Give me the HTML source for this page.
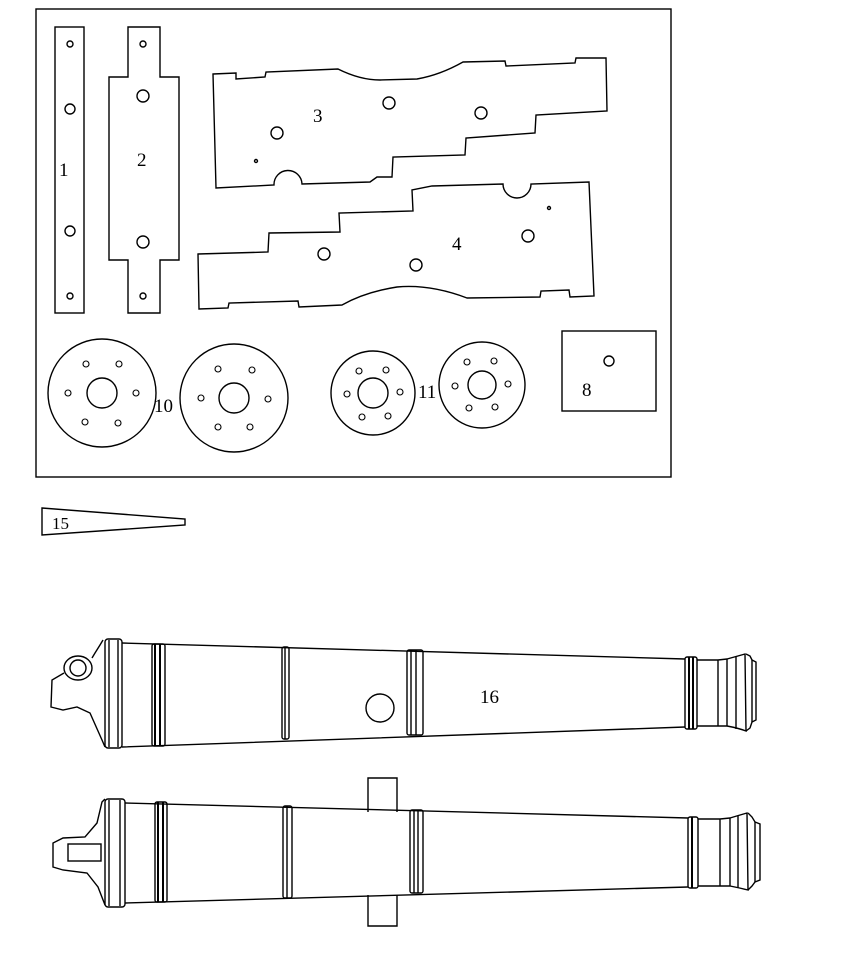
<!DOCTYPE html>
<html><head><meta charset="utf-8"><style>
html,body{margin:0;padding:0;background:#fff;}
svg{display:block;}
text{font-family:"Liberation Serif",serif;fill:#000;}
</style></head><body>
<svg width="856" height="962" viewBox="0 0 856 962" xmlns="http://www.w3.org/2000/svg">
<g fill="none" stroke="#000" stroke-width="1.4">
<rect x="36" y="9" width="635" height="468"/>
<rect x="55" y="27" width="29" height="286"/>
<circle cx="70" cy="44" r="3"/><circle cx="70" cy="109" r="5"/><circle cx="70" cy="231" r="5"/><circle cx="70" cy="296" r="3"/>
<polygon points="128,27 160,27 160,77 179,77 179,260 160,260 160,313 128,313 128,260 109,260 109,77 128,77"/>
<circle cx="143" cy="44" r="3"/><circle cx="143" cy="96" r="6"/><circle cx="143" cy="242" r="6"/><circle cx="143" cy="296" r="3"/>
<path d="M213,74 L236,73 L236,79 L265,77 L266,72 L338,69 Q360,80 380,80 L417,79 Q440,75 463,62 L505,61 L506,66 L575,63 L576,58 L606,58 L607,111 L536,115 L535,133 L466,138 L465,155 L393,157 L392,177 L377,177 L370,182 L302,184 A14,14 0 0 0 274,185 L216,188 Z"/>
<circle cx="277" cy="133" r="6"/><circle cx="389" cy="103" r="6"/><circle cx="481" cy="113" r="6"/><circle cx="256" cy="161" r="1.5"/>
<path d="M198,254 L268,252 L269,233 L340,232 L339,213 L413,211 L412,190 L432,186 L503,184 A14,14 0 0 0 531,184 L589,182 L594,296 L570,297 L569,290 L541,291 L540,297 L467,298 Q430,284 397,287 Q365,292 342,305 L299,307 L298,301 L229,303 L228,308 L199,309 Z"/>
<circle cx="324" cy="254" r="6"/><circle cx="416" cy="265" r="6"/><circle cx="528" cy="236" r="6"/><circle cx="549" cy="208" r="1.5"/>
<circle cx="102" cy="393" r="54"/><circle cx="102" cy="393" r="15"/>
<g stroke-width="1.1"><circle cx="86" cy="364" r="3"/><circle cx="119" cy="364" r="3"/><circle cx="68" cy="393" r="3"/><circle cx="136" cy="393" r="3"/><circle cx="85" cy="422" r="3"/><circle cx="118" cy="423" r="3"/></g>
<circle cx="234" cy="398" r="54"/><circle cx="234" cy="398" r="15"/>
<g stroke-width="1.1"><circle cx="218" cy="369" r="3"/><circle cx="252" cy="370" r="3"/><circle cx="201" cy="398" r="3"/><circle cx="268" cy="399" r="3"/><circle cx="218" cy="427" r="3"/><circle cx="250" cy="427" r="3"/></g>
<circle cx="373" cy="393" r="42"/><circle cx="373" cy="393" r="15"/>
<g stroke-width="1.1"><circle cx="359" cy="371" r="3"/><circle cx="386" cy="370" r="3"/><circle cx="347" cy="394" r="3"/><circle cx="400" cy="392" r="3"/><circle cx="362" cy="417" r="3"/><circle cx="388" cy="416" r="3"/></g>
<circle cx="482" cy="385" r="43"/><circle cx="482" cy="385" r="14"/>
<g stroke-width="1.1"><circle cx="467" cy="362" r="3"/><circle cx="494" cy="361" r="3"/><circle cx="455" cy="386" r="3"/><circle cx="508" cy="384" r="3"/><circle cx="469" cy="408" r="3"/><circle cx="495" cy="407" r="3"/></g>
<rect x="562" y="331" width="94" height="80"/><circle cx="609" cy="361" r="5"/>
<polygon points="42,508 185,519 185,525 42,535"/>

<path d="M103,640 L100,645 L95,653 L92,658 M78,668 m-14,0 a14,12 0 1 0 28,0 a14,12 0 1 0 -28,0 M64,673 L52,680 L51,707 L63,710 L77,707 L90,713 L102,740 L105,747"/>
<circle cx="78" cy="668" r="8"/>
<rect x="105" y="639" width="17" height="109" rx="3"/>
<line x1="109" y1="640" x2="109" y2="747"/><line x1="118" y1="640" x2="118" y2="747"/>
<path d="M122,643 L685,659 M122,747 L685,727"/>
<rect x="152" y="644" width="13" height="102" rx="2"/><line x1="155" y1="644" x2="155" y2="746" stroke-width="2"/><line x1="160" y1="644" x2="160" y2="746" stroke-width="2"/>
<rect x="282" y="647" width="7" height="92" rx="2"/><line x1="285" y1="647" x2="285" y2="739"/>
<rect x="407" y="650" width="16" height="85" rx="2"/><line x1="411" y1="650" x2="411" y2="735"/><line x1="416" y1="650" x2="416" y2="735"/>
<circle cx="380" cy="708" r="14"/>
<rect x="685" y="657" width="12" height="72" rx="2"/><line x1="689" y1="657" x2="689" y2="729" stroke-width="2"/><line x1="693" y1="657" x2="693" y2="729" stroke-width="2"/>
<path d="M697,660 L718,660 L718,726 L697,726 M718,660 L727,659 Q738,656 745,654 L746,731 Q738,728 727,726 L718,726"/>
<line x1="727" y1="659" x2="727" y2="726"/><line x1="736" y1="656" x2="736" y2="729"/>
<path d="M746,654 L750,656 L752,660 L756,662 L756,720 L752,722 L750,728 L746,731"/>
<line x1="752" y1="660" x2="752" y2="722"/>

<path d="M105,799 L102,802 L97,823 L85,837 L63,838 L53,843 L53,867 L63,870 L87,873 L98,887 L105,905"/>
<rect x="68" y="844" width="33" height="17"/>
<rect x="105" y="799" width="20" height="108" rx="3"/>
<line x1="109" y1="800" x2="109" y2="906"/><line x1="120" y1="800" x2="120" y2="906"/>
<path d="M125,803 L688,818 M125,903 L688,887"/>
<rect x="155" y="802" width="12" height="100" rx="2"/><line x1="158" y1="802" x2="158" y2="902" stroke-width="2"/><line x1="163" y1="802" x2="163" y2="902" stroke-width="2"/>
<rect x="283" y="806" width="9" height="92" rx="2"/><line x1="287" y1="806" x2="287" y2="898"/>
<path d="M368,812 L368,778 L397,778 L397,812 M368,895 L368,926 L397,926 L397,895"/>
<rect x="410" y="810" width="13" height="83" rx="2"/><line x1="414" y1="810" x2="414" y2="893"/><line x1="418" y1="810" x2="418" y2="893"/>
<rect x="688" y="817" width="10" height="71" rx="2"/><line x1="692" y1="817" x2="692" y2="888" stroke-width="2"/>
<path d="M698,819 L720,819 L720,886 L698,886 M720,819 L730,818 Q740,815 747,813 L748,890 Q740,888 730,886 L720,886"/>
<line x1="730" y1="818" x2="730" y2="886"/><line x1="738" y1="816" x2="738" y2="888"/>
<path d="M748,813 L752,817 L755,822 L760,824 L760,880 L755,882 L752,886 L748,890"/>
<line x1="755" y1="822" x2="755" y2="882"/>
</g>
<g font-size="19">
<text x="59" y="176">1</text>
<text x="137" y="166">2</text>
<text x="313" y="122">3</text>
<text x="452" y="250">4</text>
<text x="154" y="412">10</text>
<text x="418" y="398">11</text>
<text x="582" y="396">8</text>
<text x="52" y="529" font-size="17">15</text>
<text x="480" y="703">16</text>
</g>
</svg>
</body></html>
